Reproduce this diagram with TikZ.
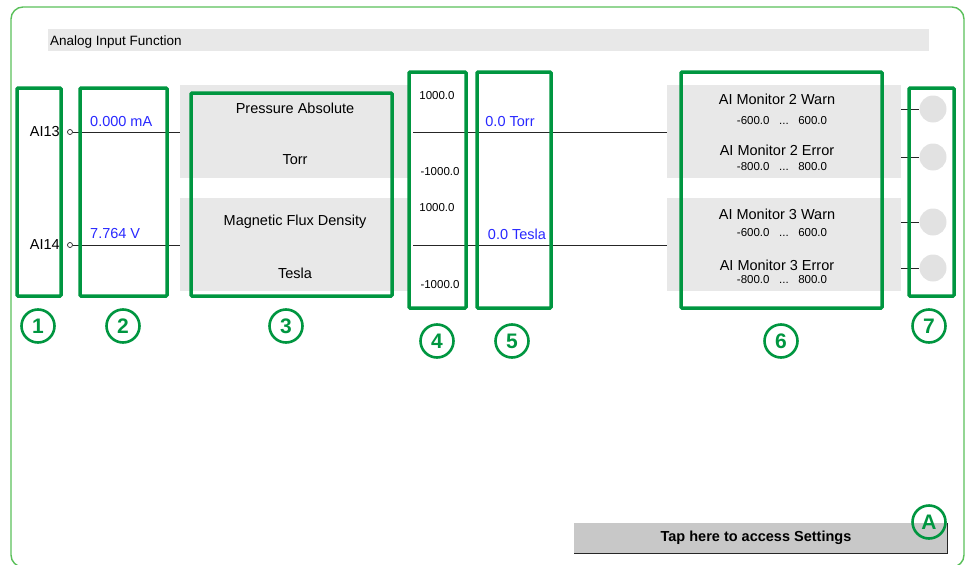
\documentclass[tikz,border=0pt]{standalone}
\usepackage{fontspec}
\setmainfont{Liberation Sans}
\definecolor{callout}{RGB}{0,150,64}
\definecolor{framegreen}{RGB}{90,192,90}
\definecolor{panelgray}{RGB}{232,232,232}
\definecolor{lampgray}{RGB}{226,226,226}
\definecolor{valblue}{RGB}{40,40,255}
\definecolor{btngray}{RGB}{200,200,200}
\tikzset{
  calloutbox/.style={draw=callout, line width=3.5pt, rounded corners=1pt, inner sep=0pt},
  badge/.style={circle, draw=callout, line width=2.6pt, minimum size=33pt, inner sep=0pt,
                font=\fontsize{21}{21}\selectfont\bfseries, text=callout},
  panelbox/.style={fill=panelgray, draw=none, inner sep=0pt},
  lbl/.style={inner sep=0pt, font=\fontsize{14.5}{16}\selectfont},
  vallbl/.style={lbl, text=valblue},
  smalllbl/.style={inner sep=0pt, font=\fontsize{11.5}{13}\selectfont},
  wire/.style={draw=black!85, line width=0.8pt},
  pin/.style={circle, draw=black!85, fill=white, line width=0.7pt, minimum size=5pt, inner sep=0pt},
  lamp/.style={circle, fill=lampgray, minimum size=27pt, inner sep=0pt}
}
\begin{document}
\begin{tikzpicture}[x=1pt,y=-1pt]
\useasboundingbox (0,0) rectangle (967,565);
% outer frame
\draw[framegreen, line width=1.4pt, rounded corners=12pt] (11,7) rectangle (964,567);
% title bar
\node[panelbox, minimum width=881pt, minimum height=22pt] (titlebar) at (488.5,40) {};
\node[inner sep=0pt, anchor=west, font=\fontsize{13.5}{15}\selectfont] (title) at (50,42) {Analog Input Function};

% gray panels
\node[panelbox, minimum width=229pt, minimum height=93pt] (panelTL) at (294.5,131.5) {};
\node[panelbox, minimum width=229pt, minimum height=93pt] (panelBL) at (294.5,244.5) {};
\node[panelbox, minimum width=234pt, minimum height=93pt] (panelTR) at (784,131.5) {};
\node[panelbox, minimum width=234pt, minimum height=93pt] (panelBR) at (784,244.5) {};

% input pins and wires
\node[pin] (pin13) at (70,132) {};
\node[pin] (pin14) at (70,245) {};
\draw[wire] (pin13.east) -- (pin13.east -| panelTL.west);
\draw[wire] (pin14.east) -- (pin14.east -| panelBL.west);
\coordinate (scaleA) at (413,132);
\coordinate (scaleB) at (413,245);
\draw[wire] (scaleA) -- (scaleA -| panelTR.west);
\draw[wire] (scaleB) -- (scaleB -| panelBR.west);

% lamps
\node[lamp] (lamp1) at (933,109) {};
\node[lamp] (lamp2) at (933,157) {};
\node[lamp] (lamp3) at (933,222) {};
\node[lamp] (lamp4) at (933,268) {};
\draw[wire] (lamp1.west -| panelTR.east) -- (lamp1.west);
\draw[wire] (lamp2.west -| panelTR.east) -- (lamp2.west);
\draw[wire] (lamp3.west -| panelBR.east) -- (lamp3.west);
\draw[wire] (lamp4.west -| panelBR.east) -- (lamp4.west);

% callout boxes
\node[calloutbox, minimum width=44pt, minimum height=208pt] (box1) at (39,192) {};
\node[calloutbox, minimum width=87pt, minimum height=208pt] (box2) at (123.5,192) {};
\node[calloutbox, minimum width=201pt, minimum height=203pt] (box3) at (291.5,194.5) {};
\node[calloutbox, minimum width=57pt, minimum height=236pt] (box4) at (437.5,190) {};
\node[calloutbox, minimum width=74pt, minimum height=236pt] (box5) at (514,190) {};
\node[calloutbox, minimum width=201pt, minimum height=236pt] (box6) at (781.5,190) {};
\node[calloutbox, minimum width=45pt, minimum height=208pt] (box7) at (931.5,192) {};

% texts
\node[lbl, anchor=east] (ai13) at (60,132) {AI13};
\node[lbl, anchor=east] (ai14) at (60,245) {AI14};
\node[vallbl, anchor=west] (v13) at (90,122) {0.000 mA};
\node[vallbl, anchor=west] (v14) at (90,234) {7.764 V};
\node[lbl] (q1) at (295,108) {Pressure Absolute};
\node[lbl] (u1) at (295,160) {Torr};
\node[lbl] (q2) at (295,222) {Magnetic Flux Density};
\node[lbl] (u2) at (295,273) {Tesla};
\node[smalllbl] (max1) at (437,96) {1000.0};
\node[smalllbl] (min1) at (440,172) {-1000.0};
\node[smalllbl] (max2) at (437,208) {1000.0};
\node[smalllbl] (min2) at (440,285) {-1000.0};
\node[vallbl] (s1) at (510,122) {0.0 Torr};
\node[vallbl] (s2) at (517,234) {0.0 Tesla};
\node[lbl] (m2w) at (777,99) {AI Monitor 2 Warn};
\node[smalllbl] (r2w) at (782,121) {-600.0\ \ \ ...\ \ \ 600.0};
\node[lbl] (m2e) at (777,150) {AI Monitor 2 Error};
\node[smalllbl] (r2e) at (782,167) {-800.0\ \ \ ...\ \ \ 800.0};
\node[lbl] (m3w) at (777,214) {AI Monitor 3 Warn};
\node[smalllbl] (r3w) at (782,233) {-600.0\ \ \ ...\ \ \ 600.0};
\node[lbl] (m3e) at (777,265) {AI Monitor 3 Error};
\node[smalllbl] (r3e) at (782,280) {-800.0\ \ \ ...\ \ \ 800.0};

% settings button
\node[fill=btngray, minimum width=373pt, minimum height=30pt, inner sep=0pt] (btn) at (760.5,538) {};
\draw[black!85, line width=1pt] (btn.north east) -- (btn.south east) -- (btn.south west);
\node[lbl, font=\fontsize{14.5}{16}\selectfont\bfseries] (btntext) at (756,538) {Tap here to access Settings};

% badges
\node[badge] (b1) at (38,326) {1};
\node[badge] (b2) at (123,326) {2};
\node[badge] (b3) at (286,326) {3};
\node[badge] (b4) at (437,341) {4};
\node[badge] (b5) at (512,341) {5};
\node[badge] (b6) at (781,341) {6};
\node[badge] (b7) at (929,326) {7};
\node[badge] (bA) at (929,522) {A};
\end{tikzpicture}
\end{document}
